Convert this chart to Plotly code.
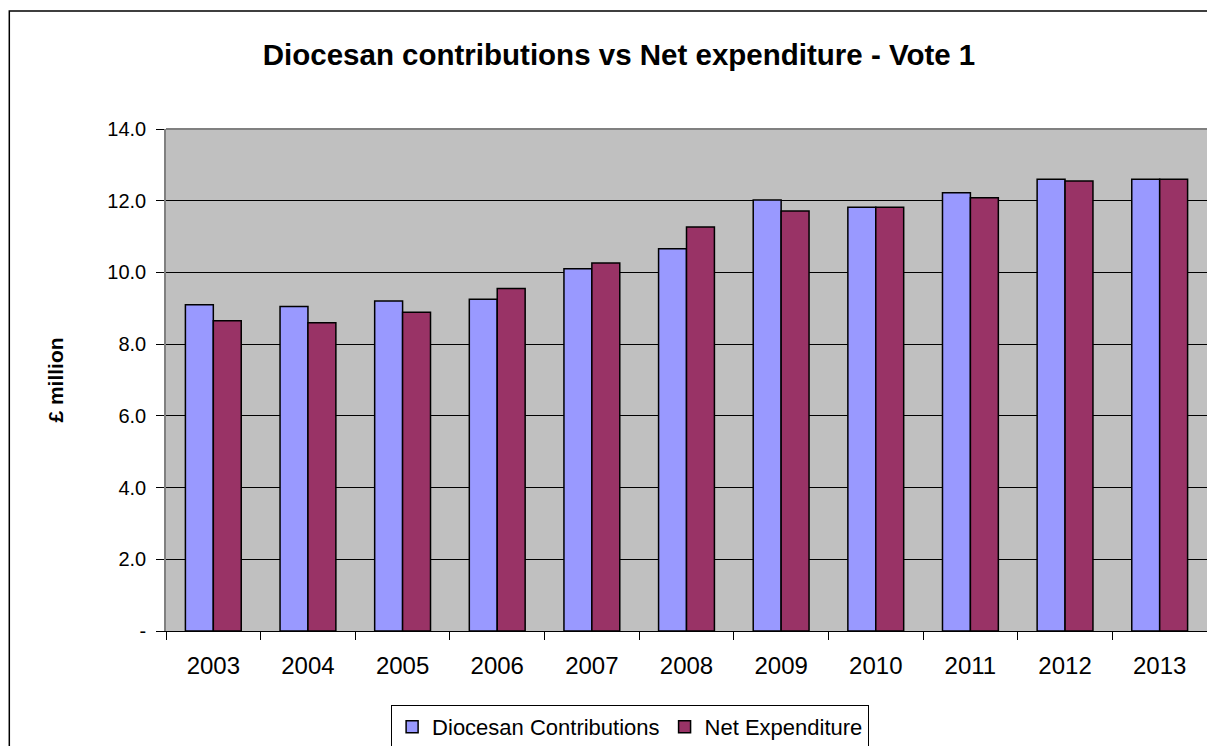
import plotly.graph_objects as go

years = ["2003", "2004", "2005", "2006", "2007", "2008", "2009", "2010", "2011", "2012", "2013"]
diocesan = [9.10, 9.05, 9.20, 9.25, 10.10, 10.66, 12.02, 11.82, 12.22, 12.60, 12.60]
net_exp = [8.65, 8.60, 8.89, 9.55, 10.26, 11.27, 11.71, 11.82, 12.08, 12.55, 12.60]
ytick_vals = [0, 2, 4, 6, 8, 10, 12, 14]
ytick_text = ["-", "2.0", "4.0", "6.0", "8.0", "10.0", "12.0", "14.0"]

FONT = "Liberation Sans, Arial, sans-serif"

# page body has an 8px default margin, so the figure is sized to fill the rest
W, H = 1207, 738
L, R, T, B = 158, 6, 121, 115
PW, PH = W - L - R, H - T - B

fig = go.Figure()
fig.add_trace(go.Bar(x=years, y=diocesan, name="Diocesan Contributions",
                     marker=dict(color="#9999FF", line=dict(color="black", width=1.5))))
fig.add_trace(go.Bar(x=years, y=net_exp, name="Net Expenditure",
                     marker=dict(color="#993366", line=dict(color="black", width=1.5))))

fig.update_layout(
    width=W, height=H,
    margin=dict(l=L, r=R, t=T, b=B),
    paper_bgcolor="white", plot_bgcolor="#C0C0C0",
    font=dict(family=FONT, color="black"),
    barmode="group", bargap=0.41, bargroupgap=0,
    title=dict(text="<b>Diocesan contributions vs Net expenditure - Vote 1</b>",
               x=611 / W, xanchor="center", y=1 - 47 / H, yanchor="middle",
               font=dict(size=29.5, family=FONT, color="black")),
    legend=dict(orientation="h", xref="paper", x=(623 - L) / PW, xanchor="center",
                yref="container", y=1 - 697 / H, yanchor="top",
                bordercolor="black", borderwidth=1, bgcolor="white",
                font=dict(size=22, family=FONT)),
    xaxis=dict(type="category", showgrid=False, showline=True, linecolor="black", linewidth=1,
               ticks="outside", tickson="boundaries", ticklen=8, tickcolor="black",
               ticklabelstandoff=13,
               tickfont=dict(size=24, family=FONT)),
    yaxis=dict(range=[0, 14], tickvals=ytick_vals, ticktext=ytick_text,
               showgrid=True, gridcolor="black", gridwidth=1,
               showline=True, linecolor="#808080", linewidth=1.5, mirror=True,
               ticks="outside", ticklen=8, tickcolor="black",
               ticklabelstandoff=6,
               tickfont=dict(size=20, family=FONT), zeroline=False,
               title=dict(text="<b>£ million</b>", font=dict(size=21, family=FONT), standoff=38)),
)

# grey top edge of plot area
fig.add_shape(type="line", xref="paper", yref="paper", x0=0, x1=1, y0=1, y1=1,
              line=dict(color="#808080", width=2), layer="above")

# outer chart-area border
fig.add_shape(type="rect", xref="paper", yref="paper",
              x0=(1 - L) / PW, x1=1.1, y0=-0.4, y1=1 + (T - 3) / PH,
              line=dict(color="black", width=1.5), fillcolor="rgba(0,0,0,0)", layer="below")

fig.write_html("out.html")
